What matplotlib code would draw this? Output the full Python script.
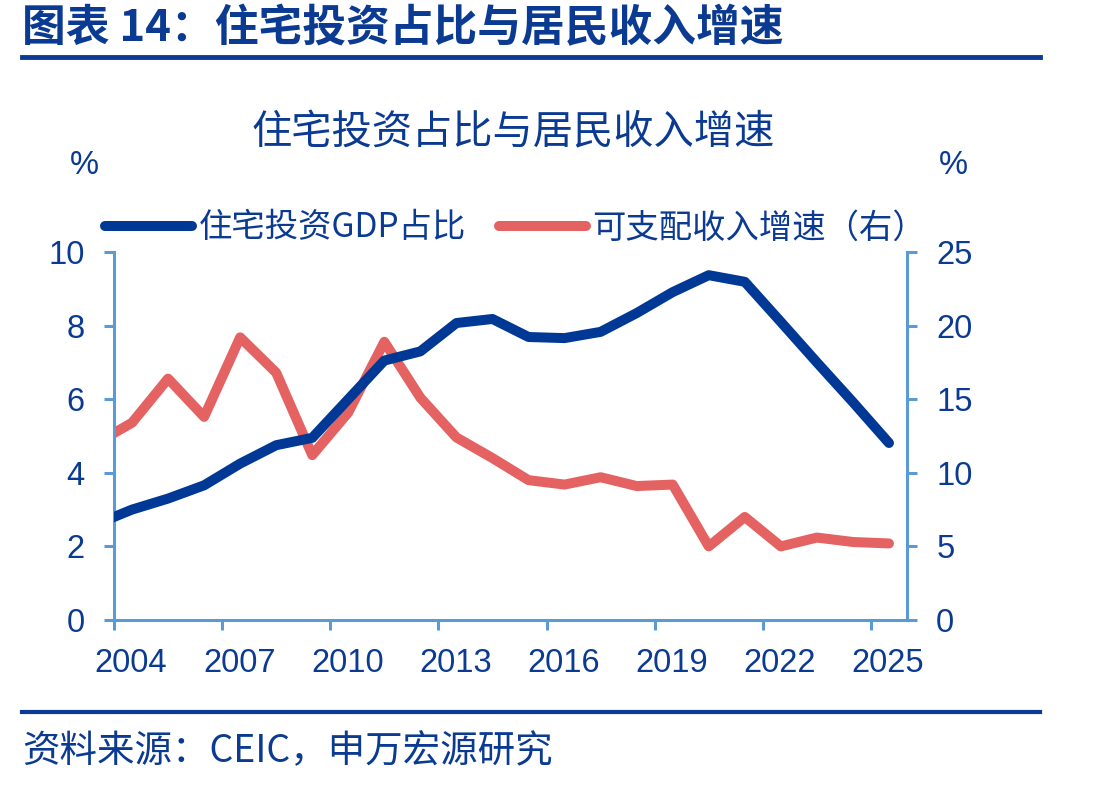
import matplotlib
matplotlib.use("Agg")
import matplotlib.pyplot as plt
from matplotlib.lines import Line2D
from matplotlib.transforms import ScaledTranslation

plt.rcParams['font.family'] = ['Noto Sans CJK SC', 'DejaVu Sans']

# ---- data (annual, plotted at mid-year) ----
years = list(range(2003, 2026))
housing_share = [2.6, 3.0, 3.3, 3.66, 4.25, 4.75, 4.95, 6.0, 7.05, 7.3, 8.07, 8.18,
                 7.69, 7.66, 7.83, 8.34, 8.91, 9.37, 9.19, 8.1, 7.0, 5.92, 4.81]
income_growth = [12.0, 13.4, 16.4, 13.8, 19.2, 16.8, 11.2, 14.1, 18.9, 15.1, 12.4, 11.0,
                 9.5, 9.2, 9.7, 9.1, 9.2, 5.0, 7.0, 5.0, 5.6, 5.3, 5.2]
xticks = [2004, 2007, 2010, 2013, 2016, 2019, 2022, 2025]
left_ticks = [0, 2, 4, 6, 8, 10]
right_ticks = [0, 5, 10, 15, 20, 25]

title_main = "图表 14：住宅投资占比与居民收入增速"
chart_title = "住宅投资占比与居民收入增速"
label_blue = "住宅投资GDP占比"
label_red = "可支配收入增速（右）"
source = "资料来源：CEIC，申万宏源研究"

NAVY = "#003896"
TEXT = "#0A3A91"
RED = "#E46262"
AXC = "#5B9BD5"

W, H = 1100, 787
fig = plt.figure(figsize=(W / 100, H / 100), dpi=100)
fig.patch.set_facecolor("white")

ax = fig.add_axes([114 / W, 1 - 620 / H, (907 - 114) / W, (620 - 252) / H])
ax2 = ax.twinx()

xs = [y + 0.5 for y in years]
l1, = ax.plot(xs, housing_share, color=NAVY, lw=7.2, solid_capstyle='round',
              solid_joinstyle='round', label=label_blue, zorder=3)
l2, = ax2.plot(xs, income_growth, color=RED, lw=7.2, solid_capstyle='round',
               solid_joinstyle='round', label=label_red, zorder=2)
ax.set_zorder(ax2.get_zorder() + 1)
ax.patch.set_visible(False)

ax.set_xlim(2004, 2026)
ax.set_ylim(0, 10)
ax2.set_ylim(0, 25)
ax.set_xticks(xticks)
ax.set_yticks(left_ticks)
ax2.set_yticks(right_ticks)

tickfont = dict(family=['Liberation Sans', 'DejaVu Sans'], size=23.5)
for a in (ax, ax2):
    for s in a.spines.values():
        s.set_visible(False)
ax.spines['left'].set_visible(True)
ax.spines['bottom'].set_visible(True)
ax2.spines['right'].set_visible(True)
for s in (ax.spines['left'], ax.spines['bottom'], ax2.spines['right']):
    s.set_color(AXC)
    s.set_linewidth(2.2)

ax.tick_params(axis='both', direction='out', length=7, width=2.2, color=AXC,
               labelcolor=TEXT)
ax.tick_params(axis='y', pad=14)
ax.tick_params(axis='x', pad=13)
ax2.tick_params(axis='y', direction='out', length=7, width=2.2, color=AXC,
                labelcolor=TEXT, pad=14)
for lab in ax.get_xticklabels() + ax.get_yticklabels() + ax2.get_yticklabels():
    lab.set_fontfamily(tickfont['family'])
    lab.set_fontsize(tickfont['size'])
# x labels sit centred on the year interval (shifted half a year right)
shift = ScaledTranslation(17 / 100, 0, fig.dpi_scale_trans)
for lab in ax.get_xticklabels():
    lab.set_transform(lab.get_transform() + shift)

# header
fig.text(22 / W, 1 - 28 / H, title_main, fontsize=31.5, fontweight='bold', color=TEXT,
         ha='left', va='center')
fig.add_artist(Line2D([22 / W, 1040 / W], [1 - 57 / H, 1 - 57 / H], color="#0B3A96", lw=3.5))
fig.add_artist(Line2D([22 / W, 1040 / W], [1 - 712 / H, 1 - 712 / H], color="#0B3A96", lw=3.0))

fig.text(513 / W, 1 - 133 / H, chart_title, fontsize=29, color=TEXT, ha='center', va='center')
fig.text(84 / W, 1 - 165 / H, "%", fontsize=23.5, color=TEXT, ha='center', va='center',
         family=['Liberation Sans', 'DejaVu Sans'])
fig.text(953 / W, 1 - 165 / H, "%", fontsize=23.5, color=TEXT, ha='center', va='center',
         family=['Liberation Sans', 'DejaVu Sans'])

leg = fig.legend(handles=[l1, l2], loc='center left', bbox_to_anchor=(105 / W, 1 - 228 / H),
                 ncol=2, frameon=False, fontsize=24, handlelength=2.6, handletextpad=0.2,
                 columnspacing=1.0, borderpad=0, borderaxespad=0)
for t in leg.get_texts():
    t.set_color(TEXT)

fig.text(22 / W, 1 - 752 / H, source, fontsize=27, color=TEXT, ha='left', va='center')

fig.savefig("out.png", dpi=100)
